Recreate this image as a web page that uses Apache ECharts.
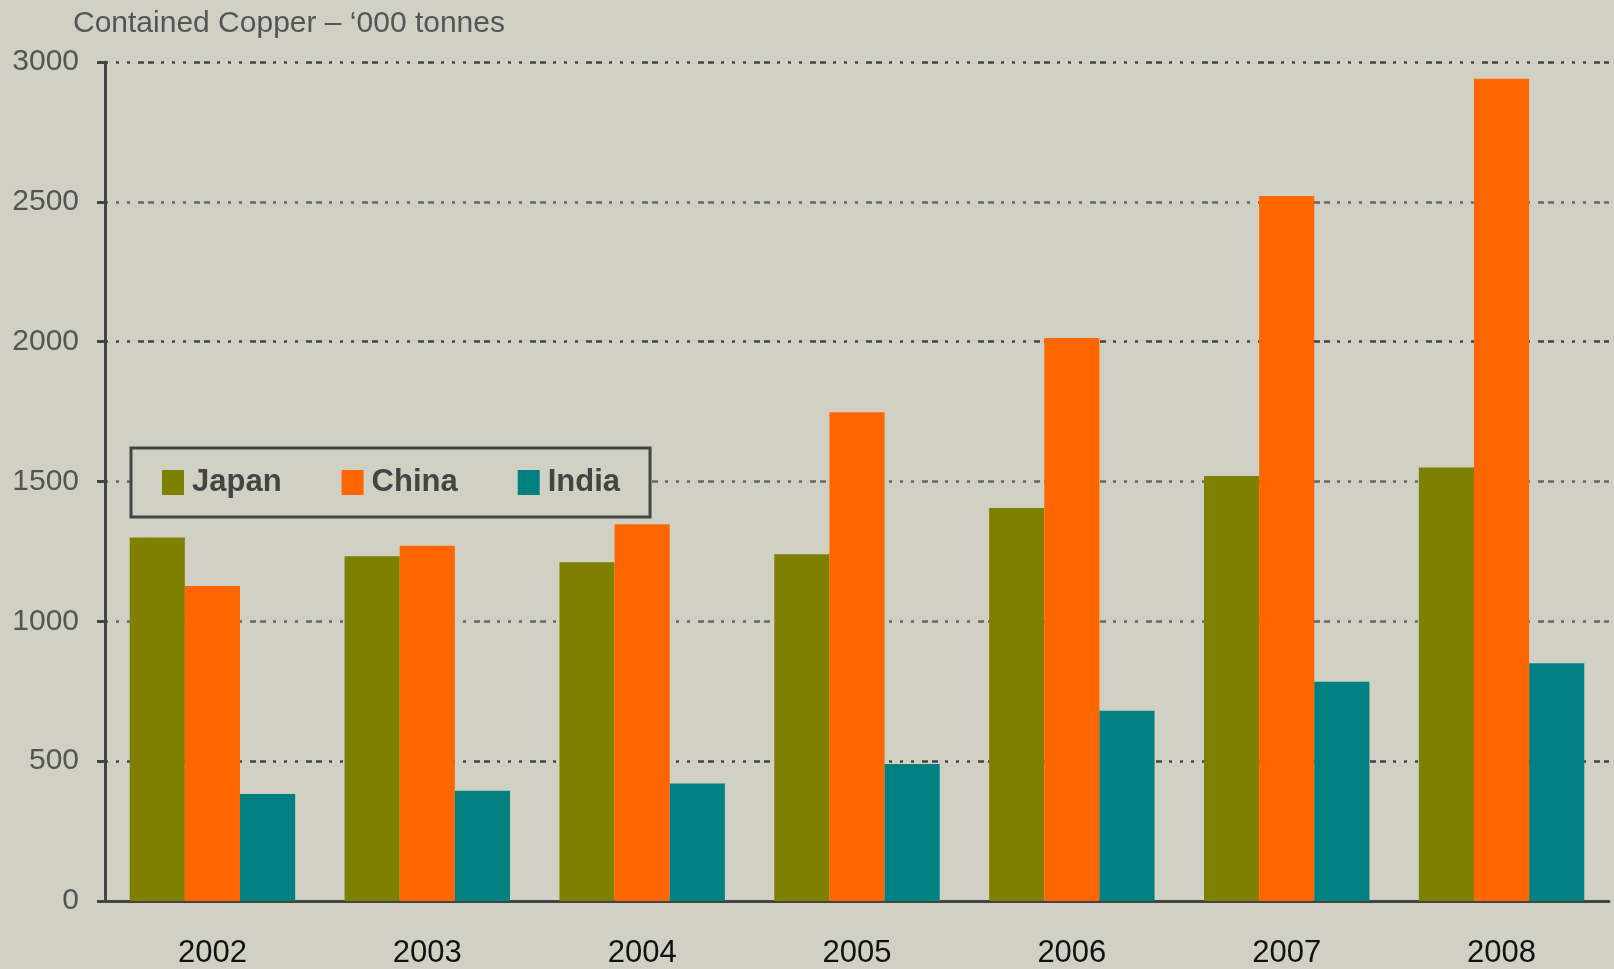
<!DOCTYPE html>
<html>
<head>
<meta charset="utf-8">
<script src="https://cdn.jsdelivr.net/npm/echarts@6/dist/echarts.min.js"></script>
<style>
  html, body { margin: 0; padding: 0; background: #d0d0c4; }
  #chart { width: 1614px; height: 969px; }
</style>
</head>
<body>
<div id="chart"></div>
<script>
// data
const years = ['2002', '2003', '2004', '2005', '2006', '2007', '2008']
const japan = [1300, 1233, 1211, 1240, 1405, 1520, 1550]
const china = [1126, 1270, 1347, 1748, 2013, 2521, 2940]
const india = [383, 394, 420, 490, 680, 784, 850]

const font = '"Liberation Sans", Arial, sans-serif'
const dotDash = [3, 8, 3, 8, 3, 8, 6, 4, 6, 7]

const chart = echarts.init(document.getElementById('chart'))
chart.setOption({
  backgroundColor: '#d0d0c4',
  animation: false,
  title: {
    text: 'Contained Copper – \u2018000 tonnes',
    left: 68,
    top: 4,
    textStyle: { fontFamily: font, fontSize: 30, fontWeight: 'normal', color: '#555' }
  },
  legend: {
    left: 131,
    top: 448,
    padding: [19, 30, 19, 31],
    itemGap: 60,
    itemWidth: 22,
    itemHeight: 25,
    backgroundColor: '#d0d0c4',
    borderColor: '#444',
    borderWidth: 3,
    icon: 'rect',
    textStyle: { fontFamily: font, fontSize: 31, fontWeight: 'bold', color: '#444', padding: [0, 0, 0, 3] },
    data: ['Japan', 'China', 'India']
  },
  grid: { left: 105, right: 5, top: 62, bottom: 68, outerBoundsMode: 'none' },
  xAxis: {
    type: 'category',
    data: years,
    axisLine: { lineStyle: { color: '#444', width: 3 } },
    axisTick: { length: 10, lineStyle: { color: '#444', width: 3 } },
    axisLabel: { fontFamily: font, fontSize: 31, color: '#111', margin: 37 }
  },
  yAxis: {
    type: 'value',
    min: 0,
    max: 3000,
    interval: 500,
    axisLine: { show: true, lineStyle: { color: '#444', width: 3 } },
    axisTick: { show: true, length: 8, lineStyle: { color: '#444', width: 3 } },
    axisLabel: { fontFamily: font, fontSize: 30, color: '#555', margin: 26, formatter: v => String(v) },
    splitLine: {
      lineStyle: {
        type: dotDash,
        width: 2.5,
        color: ['#444', '#444', '#666', '#666', '#444', '#666', '#444']
      }
    }
  },
  series: [
    { name: 'Japan', type: 'bar', data: japan, barGap: '0%', barCategoryGap: '23%', itemStyle: { color: '#808000' } },
    { name: 'China', type: 'bar', data: china, itemStyle: { color: '#ff6600' } },
    { name: 'India', type: 'bar', data: india, itemStyle: { color: '#008080' } }
  ]
})
</script>
</body>
</html>
